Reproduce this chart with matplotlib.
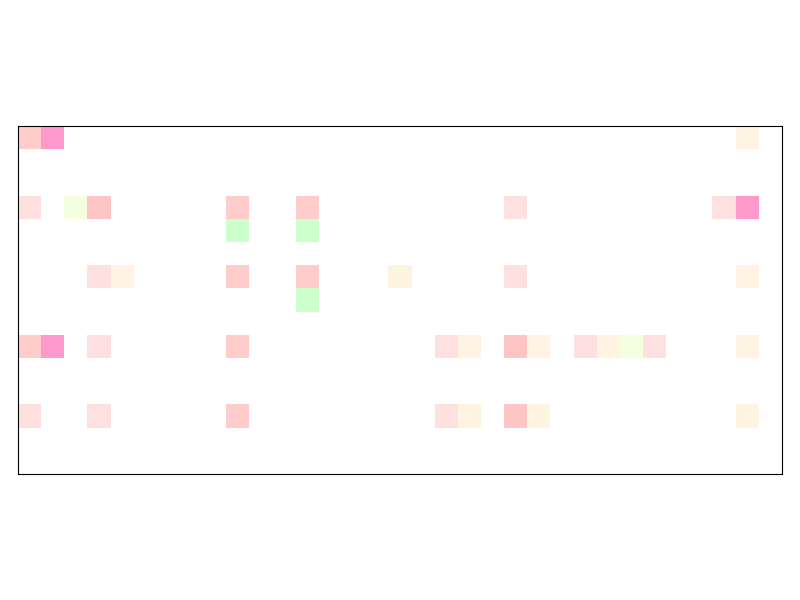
import matplotlib

matplotlib.use("Agg")

import matplotlib.pyplot as plt
import numpy as np
from matplotlib.colors import BoundaryNorm, ListedColormap

N_ROWS = 15
N_COLS = 33

# category colours (0 = empty)
CATEGORY_COLORS = [
    "#ffffff",  # 0 empty
    "#ffe0e0",  # 1 pale pink
    "#ffcccc",  # 2 salmon
    "#ffc4c4",  # 3 deeper salmon
    "#ff99cc",  # 4 hot pink
    "#ccffcc",  # 5 light green
    "#fff4e1",  # 6 beige
    "#f4ffe0",  # 7 pale yellow-green
]

cell_rows = [
    0, 0, 0,
    3, 3, 3, 3, 3, 3, 3, 3,
    4, 4,
    6, 6, 6, 6, 6, 6, 6,
    7,
    9, 9, 9, 9, 9, 9, 9, 9, 9, 9, 9, 9, 9,
    12, 12, 12, 12, 12, 12, 12, 12,
]
cell_cols = [
    0, 1, 31,
    0, 2, 3, 9, 12, 21, 30, 31,
    9, 12,
    3, 4, 9, 12, 16, 21, 31,
    12,
    0, 1, 3, 9, 18, 19, 21, 22, 24, 25, 26, 27, 31,
    0, 3, 9, 18, 19, 21, 22, 31,
]
cell_codes = [
    2, 4, 6,
    1, 7, 3, 2, 2, 1, 1, 4,
    5, 5,
    1, 6, 2, 2, 6, 1, 6,
    5,
    2, 4, 1, 2, 1, 6, 3, 6, 1, 6, 7, 1, 6,
    1, 1, 2, 1, 6, 3, 6, 6,
]

grid = np.zeros((N_ROWS, N_COLS), dtype=int)
for r, c, code in zip(cell_rows, cell_cols, cell_codes):
    grid[r, c] = code

cmap = ListedColormap(CATEGORY_COLORS)
norm = BoundaryNorm(np.arange(len(CATEGORY_COLORS) + 1) - 0.5, cmap.N)

fig, ax = plt.subplots(figsize=(8, 6), dpi=100)
fig.subplots_adjust(left=0.0225, right=0.9775, bottom=0.05, top=0.95)
ax.imshow(grid, cmap=cmap, norm=norm, interpolation="nearest", aspect="equal")
ax.set_xticks([])
ax.set_yticks([])

fig.savefig("out.png", dpi=100)
